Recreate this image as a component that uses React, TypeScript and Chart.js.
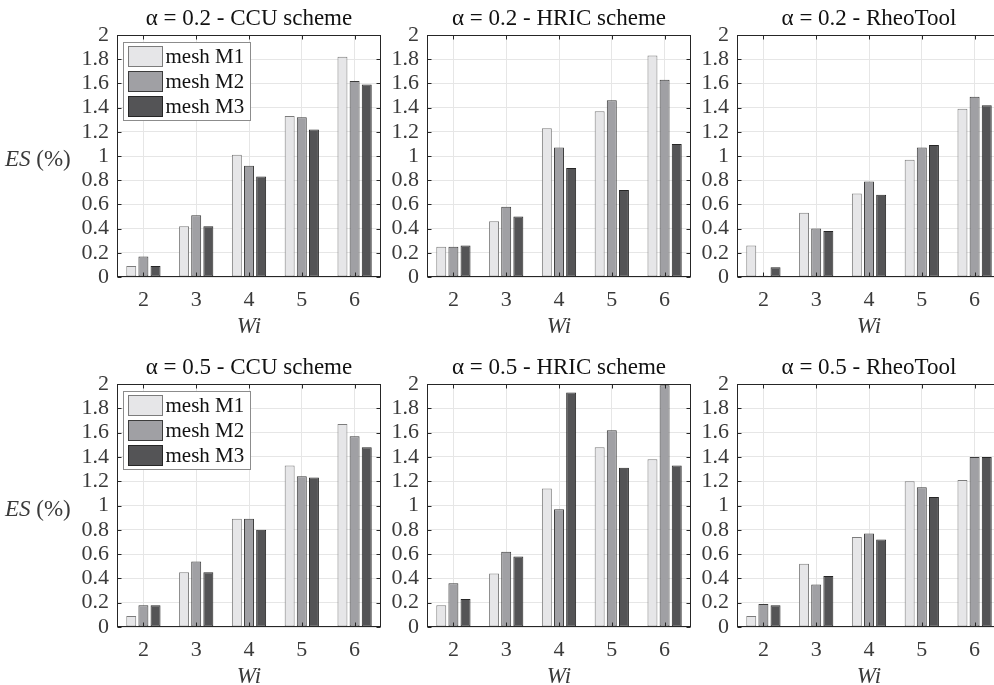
import React, { useEffect, useRef } from 'react';
import { Chart, registerables } from 'chart.js';

Chart.register(...registerables);

// ---------- data ----------
const WI = ['2', '3', '4', '5', '6'];
const SERIES = ['mesh M1', 'mesh M2', 'mesh M3'];
const Y_MIN = 0;
const Y_MAX = 2;
const Y_STEP = 0.2;

const a02_ccu_m1 = [0.09, 0.42, 1.01, 1.33, 1.82];
const a02_ccu_m2 = [0.17, 0.51, 0.92, 1.32, 1.62];
const a02_ccu_m3 = [0.09, 0.42, 0.83, 1.22, 1.59];

const a02_hric_m1 = [0.25, 0.46, 1.23, 1.37, 1.83];
const a02_hric_m2 = [0.25, 0.58, 1.07, 1.46, 1.63];
const a02_hric_m3 = [0.26, 0.5, 0.9, 0.72, 1.1];

const a02_rheo_m1 = [0.26, 0.53, 0.69, 0.97, 1.39];
const a02_rheo_m2 = [0.01, 0.4, 0.79, 1.07, 1.49];
const a02_rheo_m3 = [0.08, 0.38, 0.68, 1.09, 1.42];

const a05_ccu_m1 = [0.09, 0.45, 0.89, 1.33, 1.67];
const a05_ccu_m2 = [0.18, 0.54, 0.89, 1.24, 1.57];
const a05_ccu_m3 = [0.18, 0.45, 0.8, 1.23, 1.48];

const a05_hric_m1 = [0.18, 0.44, 1.14, 1.48, 1.38];
const a05_hric_m2 = [0.36, 0.62, 0.97, 1.62, 1.99];
const a05_hric_m3 = [0.23, 0.58, 1.93, 1.31, 1.33];

const a05_rheo_m1 = [0.09, 0.52, 0.74, 1.2, 1.21];
const a05_rheo_m2 = [0.19, 0.35, 0.77, 1.15, 1.4];
const a05_rheo_m3 = [0.18, 0.42, 0.72, 1.07, 1.4];

// ---------- styles ----------
const SERIF = '"Liberation Serif", "DejaVu Serif", serif';
const FILLS = ['#e6e6e8', '#a0a0a4', '#545456'];
const EDGES = ['#7c7c7c', '#3c3c3c', '#262626'];
const GRID = '#e6e6e6';
const AXIS = '#262626';
const TEXT = '#3a3a3a';

const PLOT_W = 264;
const TITLE_H = 35;
const XAXIS_H = 65;

const framePlugin = {
  id: 'frame',
  afterDatasetsDraw(chart: any) {
    const { ctx, chartArea: ca } = chart;
    const x = chart.scales.x;
    const y = chart.scales.y;
    const L = Math.round(ca.left) + 0.5;
    const R = Math.round(ca.right) - 0.5;
    const T = Math.round(ca.top) + 0.5;
    const B = Math.round(ca.bottom) - 0.5;
    ctx.save();
    ctx.strokeStyle = AXIS;
    ctx.lineWidth = 1;
    ctx.beginPath();
    x.ticks.forEach((_t: any, i: number) => {
      const px = Math.round(x.getPixelForTick(i)) + 0.5;
      ctx.moveTo(px, B);
      ctx.lineTo(px, B - 4);
      ctx.moveTo(px, T);
      ctx.lineTo(px, T + 4);
    });
    y.ticks.forEach((t: any) => {
      const py = Math.round(y.getPixelForValue(t.value)) + 0.5;
      ctx.moveTo(L, py);
      ctx.lineTo(L + 4, py);
      ctx.moveTo(R, py);
      ctx.lineTo(R - 4, py);
    });
    ctx.stroke();
    ctx.strokeRect(L, T, R - L, B - T);
    ctx.restore();
  },
};

const extrasPlugin = {
  id: 'extras',
  afterDraw(chart: any, _args: any, opts: any) {
    const { ctx, chartArea: ca } = chart;
    ctx.save();
    if (opts.legend) {
      const lx = Math.round(ca.left) + 6.5;
      const ly = Math.round(ca.top) + 7.5;
      const w = 127;
      const h = 78;
      ctx.fillStyle = '#ffffff';
      ctx.fillRect(lx, ly, w, h);
      ctx.strokeStyle = '#8c8c8c';
      ctx.lineWidth = 1;
      ctx.strokeRect(lx, ly, w, h);
      chart.data.datasets.forEach((ds: any, i: number) => {
        const sy = ly + 4 + 25 * i;
        ctx.fillStyle = ds.backgroundColor;
        ctx.fillRect(lx + 5, sy, 34, 20);
        ctx.strokeStyle = ds.borderColor;
        ctx.strokeRect(lx + 5, sy, 34, 20);
        ctx.fillStyle = '#111111';
        ctx.font = `21px ${SERIF}`;
        ctx.textBaseline = 'middle';
        ctx.textAlign = 'left';
        ctx.fillText(ds.label, lx + 42, sy + 11);
      });
    }
    if (opts.ylabel) {
      const cy = (ca.top + ca.bottom) / 2 + 4;
      ctx.fillStyle = TEXT;
      ctx.textBaseline = 'middle';
      ctx.textAlign = 'left';
      ctx.font = `italic 23px ${SERIF}`;
      ctx.fillText('ES', 5, cy);
      const w = ctx.measureText('ES').width;
      ctx.font = `23px ${SERIF}`;
      ctx.fillText(' (%)', 5 + w, cy);
    }
    ctx.restore();
  },
};

type PanelProps = {
  title: string;
  m1: number[];
  m2: number[];
  m3: number[];
  plotLeft: number;
  plotTop: number;
  plotH: number;
  margin: number;
  legend: boolean;
  ylabel: boolean;
};

function Panel(p: PanelProps) {
  const ref = useRef<HTMLCanvasElement>(null);
  const width = p.margin * 2 + PLOT_W;
  const height = TITLE_H + p.plotH + XAXIS_H;

  useEffect(() => {
    let chart: Chart | null = null;
    let cancelled = false;
    const build = () => {
      if (cancelled || !ref.current) return;
      const values = [p.m1, p.m2, p.m3];
      chart = new Chart(ref.current, {
        type: 'bar',
        data: {
          labels: WI,
          datasets: SERIES.map((s, i) => ({
            label: s,
            data: values[i],
            backgroundColor: FILLS[i],
            borderColor: EDGES[i],
            borderWidth: 1,
            borderSkipped: false,
            categoryPercentage: 0.69,
            barPercentage: 0.82,
          })),
        },
        options: {
          animation: false,
          responsive: false,
          devicePixelRatio: 1,
          layout: { padding: 0 },
          plugins: {
            legend: { display: false },
            tooltip: { enabled: false },
            title: {
              display: true,
              text: p.title,
              color: '#111111',
              font: { family: SERIF, size: 23, weight: 'normal' },
              padding: { top: 5, bottom: 2.4 },
            },
            extras: { legend: p.legend, ylabel: p.ylabel },
          } as any,
          scales: {
            x: {
              grid: { color: GRID, offset: false, drawTicks: false },
              border: { display: false },
              ticks: {
                color: TEXT,
                font: { family: SERIF, size: 22 },
                padding: 10,
                maxRotation: 0,
                autoSkip: false,
              },
              title: {
                display: true,
                text: 'Wi',
                color: TEXT,
                font: { family: SERIF, size: 23, style: 'italic' },
                padding: { top: 0, bottom: 1 },
              },
              afterFit: (s: any) => {
                s.height = XAXIS_H;
              },
            },
            y: {
              min: Y_MIN,
              max: Y_MAX,
              grid: { color: GRID, drawTicks: false },
              border: { display: false },
              ticks: {
                stepSize: Y_STEP,
                autoSkip: false,
                color: TEXT,
                font: { family: SERIF, size: 22 },
                padding: 8,
                callback: (v: any) => String(Math.round(Number(v) * 10) / 10),
              },
              afterFit: (s: any) => {
                s.width = p.margin;
              },
            },
            y2: {
              position: 'right',
              min: Y_MIN,
              max: Y_MAX,
              display: true,
              grid: { display: false, drawTicks: false },
              border: { display: false },
              ticks: { display: false },
              afterFit: (s: any) => {
                s.width = p.margin;
              },
            },
          } as any,
        },
        plugins: [framePlugin, extrasPlugin],
      });
    };
    const fonts: any = (document as any).fonts;
    if (fonts && fonts.load) {
      Promise.all([
        fonts.load('22px "Liberation Serif"'),
        fonts.load('italic 22px "Liberation Serif"'),
      ])
        .catch(() => null)
        .then(build);
    } else {
      build();
    }
    return () => {
      cancelled = true;
      if (chart) chart.destroy();
    };
  }, []);

  return (
    <canvas
      ref={ref}
      width={width}
      height={height}
      style={{
        position: 'absolute',
        left: p.plotLeft - p.margin,
        top: p.plotTop - TITLE_H,
        width,
        height,
      }}
    />
  );
}

const COL_LEFT = [117, 427, 737];
const COL_MARGIN = [117, 60, 60];
const ROW_TOP = [35, 384];
const ROW_H = [242, 243];

export default function App() {
  const panels = [
    { title: 'α = 0.2 - CCU scheme', m1: a02_ccu_m1, m2: a02_ccu_m2, m3: a02_ccu_m3, r: 0, c: 0 },
    { title: 'α = 0.2 - HRIC scheme', m1: a02_hric_m1, m2: a02_hric_m2, m3: a02_hric_m3, r: 0, c: 1 },
    { title: 'α = 0.2 - RheoTool', m1: a02_rheo_m1, m2: a02_rheo_m2, m3: a02_rheo_m3, r: 0, c: 2 },
    { title: 'α = 0.5 - CCU scheme', m1: a05_ccu_m1, m2: a05_ccu_m2, m3: a05_ccu_m3, r: 1, c: 0 },
    { title: 'α = 0.5 - HRIC scheme', m1: a05_hric_m1, m2: a05_hric_m2, m3: a05_hric_m3, r: 1, c: 1 },
    { title: 'α = 0.5 - RheoTool', m1: a05_rheo_m1, m2: a05_rheo_m2, m3: a05_rheo_m3, r: 1, c: 2 },
  ];
  return (
    <div
      style={{
        position: 'absolute',
        left: 0,
        top: 0,
        width: 994,
        height: 685,
        overflow: 'hidden',
        background: '#ffffff',
        fontFamily: SERIF,
      }}
    >
      {panels.map((pn, i) => (
        <Panel
          key={i}
          title={pn.title}
          m1={pn.m1}
          m2={pn.m2}
          m3={pn.m3}
          plotLeft={COL_LEFT[pn.c]}
          plotTop={ROW_TOP[pn.r]}
          plotH={ROW_H[pn.r]}
          margin={COL_MARGIN[pn.c]}
          legend={pn.c === 0}
          ylabel={pn.c === 0}
        />
      ))}
    </div>
  );
}
